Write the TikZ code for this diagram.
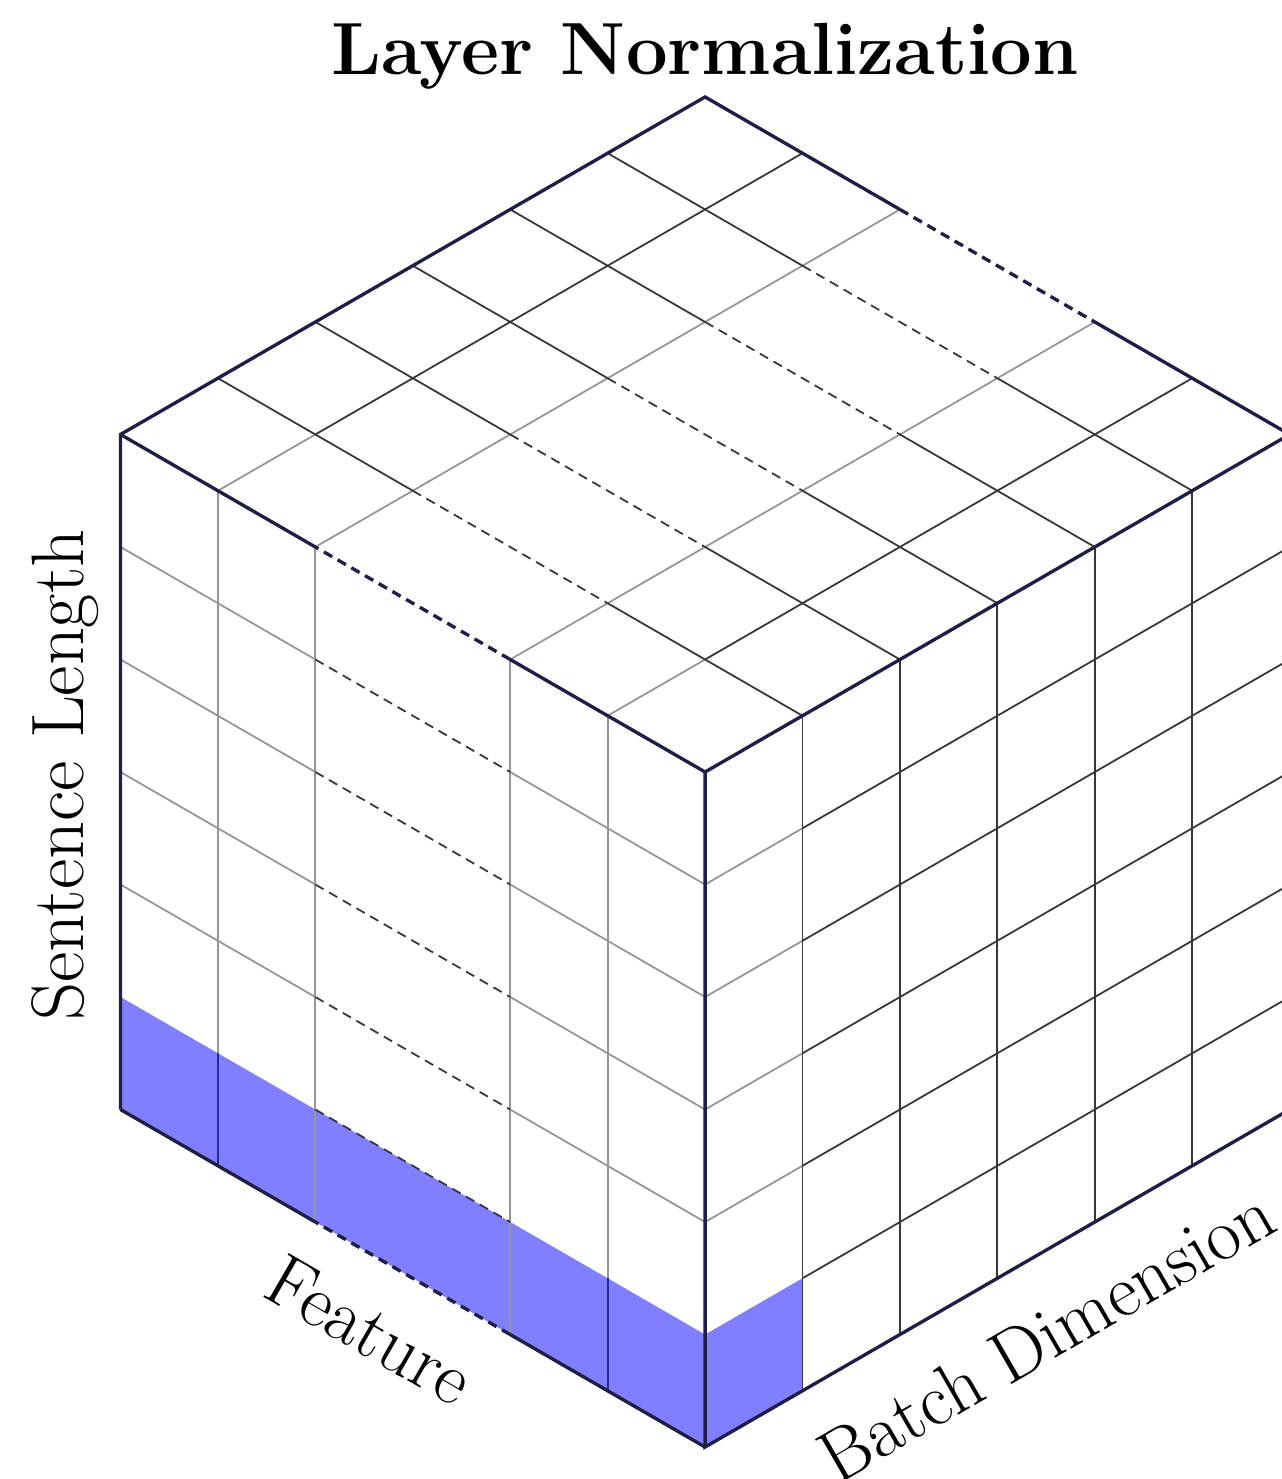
\documentclass[tikz,border=0pt]{standalone}
\definecolor{cubeedge}{RGB}{30,30,70}
\definecolor{lightline}{RGB}{150,150,150}
\definecolor{darkline}{RGB}{55,55,55}
\definecolor{normfill}{RGB}{127,127,255}
\definecolor{normline}{RGB}{40,40,150}

\begin{document}
\begin{tikzpicture}[
    x={(0.866cm,0.5cm)}, y={(0cm,1cm)}, z={(-0.866cm,0.5cm)},
    edge/.style={draw=cubeedge, line width=0.85pt},
    light/.style={draw=lightline, line width=0.45pt},
    dark/.style={draw=darkline, line width=0.45pt},
    gap/.style={dash pattern=on 2.4pt off 1.6pt},
    every node/.style={font=\fontsize{18.8}{22}\selectfont}
  ]
  \useasboundingbox (-6.267cm,-0.284cm) rectangle (5.12cm,12.862cm);
  \fill[normfill] (0,0,0) -- (0,0,6) -- (0,1,6) -- (0,1,0) -- cycle;
  \foreach \fe in {1,2,4,5} \draw[light] (0,0,\fe) -- (0,6,\fe);
  \foreach \sl in {2,...,5} \draw[light] (0,\sl,6) -- (0,\sl,4) (0,\sl,2) -- (0,\sl,0);
  \foreach \sl in {1,...,5} \draw[dark, gap] (0,\sl,4) -- (0,\sl,2);
  \draw[normline, line width=0.45pt] (0,0,5) -- (0,1,5) (0,0,1) -- (0,1,1);

  \foreach \sl in {2,...,5} \draw[light] (0,\sl,0) -- (1,\sl,0);
  \fill[normfill] (0,0,0) -- (1,0,0) -- (1,1,0) -- (0,1,0) -- cycle;
  \foreach \ba in {1,...,5} \draw[dark] (\ba,0,0) -- (\ba,6,0);
  \foreach \sl in {1,...,5} \draw[dark] (1,\sl,0) -- (6,\sl,0);

  \foreach \fe in {1,5} {
    \draw[light] (0,6,\fe) -- (1,6,\fe);
    \draw[dark] (1,6,\fe) -- (6,6,\fe);
  }
  \foreach \fe in {2,4} \draw[light] (0,6,\fe) -- (6,6,\fe);
  \foreach \ba in {1,...,5} {
    \draw[dark] (\ba,6,6) -- (\ba,6,4) (\ba,6,2) -- (\ba,6,0);
    \draw[dark, gap] (\ba,6,4) -- (\ba,6,2);
  }

  \draw[edge] (0,0,6) -- (0,6,6) -- (6,6,6) -- (6,6,4);
  \draw[edge, gap] (6,6,4) -- (6,6,2);
  \draw[edge] (6,6,2) -- (6,6,0) -- (6,0,0) -- (0,0,0) -- (0,6,0) -- (6,6,0);
  \draw[edge] (0,0,0) -- (0,0,2) (0,0,4) -- (0,0,6);
  \draw[edge, gap] (0,0,2) -- (0,0,4);
  \draw[edge] (0,6,0) -- (0,6,2) (0,6,4) -- (0,6,6);
  \draw[edge, gap] (0,6,2) -- (0,6,4);

  \node[font=\fontsize{18.7}{22}\selectfont\bfseries, anchor=base] (title) at (0cm,12.2cm) {Layer Normalization};
  \node[rotate=90] (sentence) at (-5.689cm,5.973cm) {Sentence Length};
  \node[rotate=-30] (feature) at (-2.978cm,1.04cm) {Feature};
  \node[rotate=30] (batch) at (3.03cm,0.996cm) {Batch Dimension};
\end{tikzpicture}
\end{document}
